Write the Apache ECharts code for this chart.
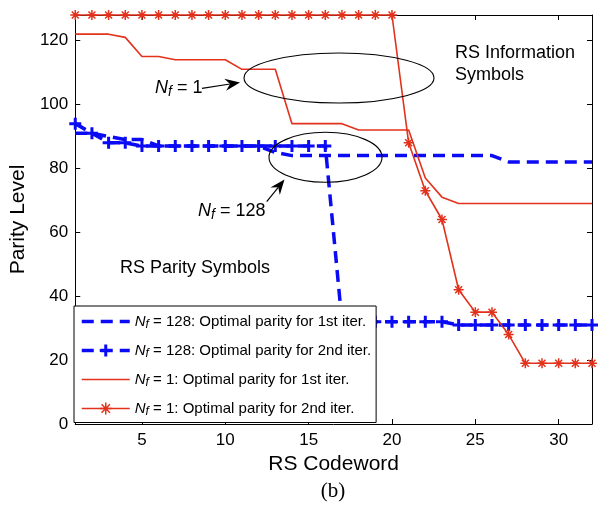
<!DOCTYPE html>
<html>
<head>
<meta charset="utf-8">
<script src="https://cdn.jsdelivr.net/npm/echarts@6/dist/echarts.min.js"></script>
<style>
  html, body { margin: 0; padding: 0; background: #fff; }
  #chart { width: 611px; height: 506px; }
</style>
</head>
<body>
<div id="chart"></div>
<script>
// RS codeword index 1..32
const codewords = [1, 2, 3, 4, 5, 6, 7, 8, 9, 10, 11, 12, 13, 14, 15, 16,
                   17, 18, 19, 20, 21, 22, 23, 24, 25, 26, 27, 28, 29, 30, 31, 32];
const xTicks = [5, 10, 15, 20, 25, 30];
const yTicks = [0, 20, 40, 60, 80, 100, 120];

// Optimal parity levels per codeword
const nf128Iter1 = [91, 91, 90, 89, 89, 87, 87, 87, 87, 87, 87, 87, 85, 84, 84, 84,
                    84, 84, 84, 84, 84, 84, 84, 84, 84, 84, 82, 82, 82, 82, 82, 82];
const nf128Iter2 = [94, 91, 88, 88, 87, 87, 87, 87, 87, 87, 87, 87, 87, 87, 87, 87,
                    32, 32, 32, 32, 32, 32, 32, 31, 31, 31, 31, 31, 31, 31, 31, 31];
const nf1Iter1   = [122, 122, 122, 121, 115, 115, 114, 114, 114, 114, 111, 111, 111, 94, 94, 94,
                    94, 92, 92, 92, 92, 77, 71, 69, 69, 69, 69, 69, 69, 69, 69, 69];
const nf1Iter2   = [128, 128, 128, 128, 128, 128, 128, 128, 128, 128, 128, 128, 128, 128, 128, 128,
                    128, 128, 128, 128, 88, 73, 64, 42, 35, 35, 28, 19, 19, 19, 19, 19];

const seriesNames = [
  'Nf = 128: Optimal parity for 1st iter.',
  'Nf = 128: Optimal parity for 2nd iter.',
  'Nf = 1: Optimal parity for 1st iter.',
  'Nf = 1: Optimal parity for 2nd iter.'
];

const RED = '#e2321c';
const BLUE = '#0a0af5';
const FONT = '"Liberation Sans", Arial, sans-serif';

// stroked marker shapes
const PLUS = 'path://M0 6L12 6M6 0L6 12';
const STAR = 'path://M5 0L5 10M0 5L10 5M1.5 1.5L8.5 8.5M8.5 1.5L1.5 8.5';

const pairs = vals => codewords.map((c, i) => [c, vals[i]]);

// italic N with subscript f
const nfRichLegend = {
  n: { fontStyle: 'italic', fontSize: 15, fontFamily: FONT, color: '#000', lineHeight: 18 },
  s: { fontStyle: 'italic', fontSize: 12, fontFamily: FONT, color: '#000', lineHeight: 10, verticalAlign: 'bottom' },
  t: { fontSize: 15, fontFamily: FONT, color: '#000', lineHeight: 18 }
};
const nfRichText = {
  n: { fontStyle: 'italic', fontSize: 18, fontFamily: FONT, fill: '#000', lineHeight: 22 },
  s: { fontStyle: 'italic', fontSize: 14, fontFamily: FONT, fill: '#000', lineHeight: 12, verticalAlign: 'bottom' },
  t: { fontSize: 18, fontFamily: FONT, fill: '#000', lineHeight: 22 }
};

// annotation arrow: shaft plus a swept-back head
function arrow(x1, y1, x2, y2) {
  const dx = x2 - x1, dy = y2 - y1;
  const len = Math.hypot(dx, dy);
  const ux = dx / len, uy = dy / len;
  const px = -uy, py = ux;
  const hl = 15, hw = 6, notch = 10;
  const bx = x2 - ux * hl, by = y2 - uy * hl;
  const nx = x2 - ux * notch, ny = y2 - uy * notch;
  return [
    { type: 'line', shape: { x1: x1, y1: y1, x2: nx, y2: ny },
      style: { stroke: '#000', lineWidth: 1.2 }, z: 20 },
    { type: 'polygon', shape: { points: [[x2, y2], [bx + px * hw, by + py * hw], [nx, ny], [bx - px * hw, by - py * hw]] },
      style: { fill: '#000' }, z: 20 }
  ];
}

const axisCommon = {
  type: 'value',
  axisLine: { show: true, onZero: false, lineStyle: { color: '#000', width: 1 } },
  splitLine: { show: false }
};

const chart = echarts.init(document.getElementById('chart'));
chart.setOption({
  animation: false,
  backgroundColor: '#fff',
  grid: { left: 72, right: 19, top: 15, bottom: 82, show: false },
  xAxis: [
    Object.assign({}, axisCommon, {
      position: 'bottom', min: 1, max: 32,
      axisTick: { show: true, inside: true, length: 5, customValues: xTicks, lineStyle: { color: '#000' } },
      axisLabel: { customValues: xTicks, color: '#000', fontSize: 17, fontFamily: FONT, margin: 8 },
      name: 'RS Codeword', nameLocation: 'middle', nameGap: 30,
      nameTextStyle: { color: '#000', fontSize: 21, fontFamily: FONT, verticalAlign: 'top' }
    }),
    Object.assign({}, axisCommon, {
      position: 'top', min: 1, max: 32,
      axisTick: { show: true, inside: true, length: 5, customValues: xTicks, lineStyle: { color: '#000' } },
      axisLabel: { show: false }
    })
  ],
  yAxis: [
    Object.assign({}, axisCommon, {
      position: 'left', min: 0, max: 128,
      axisTick: { show: true, inside: true, length: 5, customValues: yTicks, lineStyle: { color: '#000' } },
      axisLabel: { customValues: yTicks, color: '#000', fontSize: 17, fontFamily: FONT, margin: 7 },
      name: 'Parity Level', nameLocation: 'middle', nameGap: 38,
      nameTextStyle: { color: '#000', fontSize: 21, fontFamily: FONT }
    }),
    Object.assign({}, axisCommon, {
      position: 'right', min: 0, max: 128,
      axisTick: { show: true, inside: true, length: 5, customValues: yTicks, lineStyle: { color: '#000' } },
      axisLabel: { show: false }
    })
  ],
  legend: {
    orient: 'vertical', left: 74, top: 306,
    backgroundColor: '#fff', borderColor: '#000', borderWidth: 1, borderRadius: 0,
    padding: [8, 5, 5, 6], itemWidth: 48, itemHeight: 15, itemGap: 12.5,
    selectedMode: false,
    textStyle: { fontFamily: FONT, fontSize: 15, color: '#000', rich: nfRichLegend },
    formatter: name => '{n|N}{s|f}{t|' + name.slice(2) + '}',
    data: [
      { name: seriesNames[0], itemStyle: { color: 'transparent', borderWidth: 0 }, lineStyle: { width: 3.5 } },
      { name: seriesNames[1], itemStyle: { color: BLUE, borderColor: BLUE, borderWidth: 3 }, lineStyle: { width: 3.5 } },
      { name: seriesNames[2], itemStyle: { color: 'transparent', borderWidth: 0 }, lineStyle: { width: 1.6 } },
      { name: seriesNames[3], itemStyle: { color: RED, borderColor: RED, borderWidth: 1.5 }, lineStyle: { width: 1.6 } }
    ]
  },
  series: [
    {
      name: seriesNames[0], type: 'line', data: pairs(nf128Iter1), symbol: 'none', clip: false,
      lineStyle: { color: BLUE, width: 3.5, type: [12, 7] }, itemStyle: { color: BLUE },
      emphasis: { disabled: true }
    },
    {
      name: seriesNames[1], type: 'line', data: pairs(nf128Iter2), clip: false,
      symbol: PLUS, symbolSize: 12,
      lineStyle: { color: BLUE, width: 3.5, type: [12, 7] },
      itemStyle: { color: BLUE, borderColor: BLUE, borderWidth: 3 },
      emphasis: { disabled: true }
    },
    {
      name: seriesNames[2], type: 'line', data: pairs(nf1Iter1), symbol: 'none', clip: false,
      lineStyle: { color: RED, width: 1.6 }, itemStyle: { color: RED },
      emphasis: { disabled: true }
    },
    {
      name: seriesNames[3], type: 'line', data: pairs(nf1Iter2), clip: false,
      symbol: STAR, symbolSize: 10,
      lineStyle: { color: RED, width: 1.6 },
      itemStyle: { color: RED, borderColor: RED, borderWidth: 1.5 },
      emphasis: { disabled: true }
    }
  ],
  graphic: [
    { type: 'ellipse', shape: { cx: 339, cy: 78, rx: 95, ry: 25 },
      style: { fill: 'none', stroke: '#000', lineWidth: 1.1 }, z: 20 },
    { type: 'ellipse', shape: { cx: 325.5, cy: 157.3, rx: 56.5, ry: 25 },
      style: { fill: 'none', stroke: '#000', lineWidth: 1.1 }, z: 20 },
    ...arrow(202, 88.3, 240, 82.5),
    ...arrow(266.7, 201.7, 284.5, 179.5),
    { type: 'text', x: 155, y: 88, z: 20,
      style: { text: '{n|N}{s|f}{t| = 1}', rich: nfRichText, verticalAlign: 'middle', fill: '#000' } },
    { type: 'text', x: 198, y: 211, z: 20,
      style: { text: '{n|N}{s|f}{t| = 128}', rich: nfRichText, verticalAlign: 'middle', fill: '#000' } },
    { type: 'text', x: 455, y: 42, z: 20,
      style: { text: 'RS Information\nSymbols', font: '18px ' + FONT, lineHeight: 22, fill: '#000' } },
    { type: 'text', x: 120, y: 259, z: 20,
      style: { text: 'RS Parity Symbols', font: '18px ' + FONT, fill: '#000' } },
    { type: 'text', x: 333, y: 481, z: 20,
      style: { text: '(b)', font: '21px "Liberation Serif", "Times New Roman", serif', fill: '#000', align: 'center' } }
  ]
});
</script>
</body>
</html>
